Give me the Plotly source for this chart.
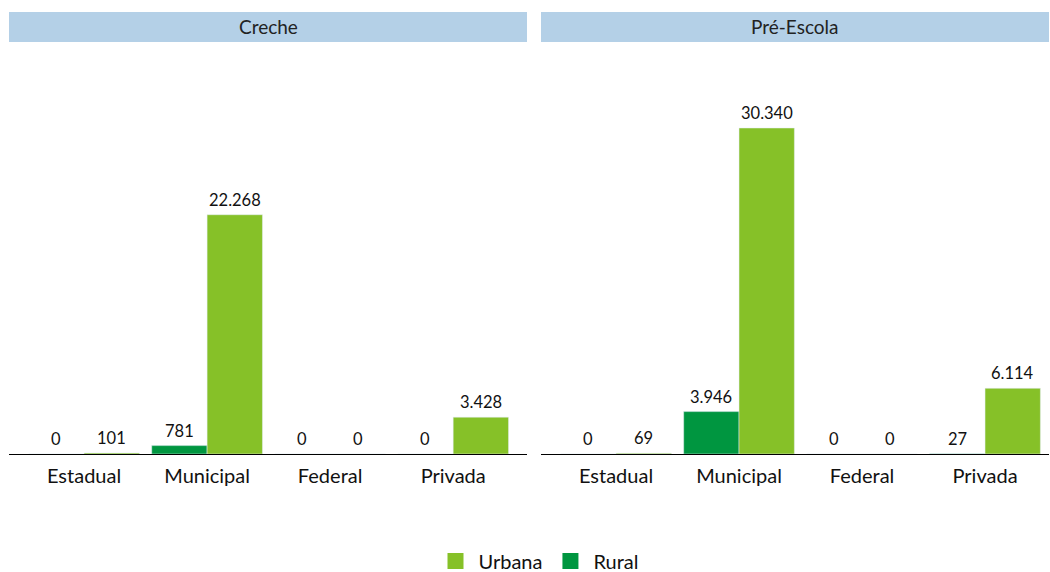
import plotly.graph_objects as go

categories = ["Estadual", "Municipal", "Federal", "Privada"]
panels = ["Creche", "Pré-Escola"]
rural_creche = [0, 781, 0, 0]
urbana_creche = [101, 22268, 0, 3428]
rural_pre = [0, 3946, 0, 27]
urbana_pre = [69, 30340, 0, 6114]

RURAL = "#009640"
URBANA = "#86c128"
FONT = "Lato"
W, H = 1050, 572


def fmt(v):
    return f"{v:,}".replace(",", ".")


def px(x):
    return x / W


def py(y):
    return 1 - y / H


fig = go.Figure()
data = [(rural_creche, urbana_creche), (rural_pre, urbana_pre)]
annotations = []
for i, (rur, urb) in enumerate(data):
    xa = "x" if i == 0 else "x2"
    ya = "y" if i == 0 else "y2"
    fig.add_trace(go.Bar(x=categories, y=rur, name="Rural", marker_color=RURAL,
                         offsetgroup="r", xaxis=xa, yaxis=ya, showlegend=False,
                         hoverinfo="skip"))
    fig.add_trace(go.Bar(x=categories, y=urb, name="Urbana", marker_color=URBANA,
                         offsetgroup="u", xaxis=xa, yaxis=ya, showlegend=False,
                         hoverinfo="skip"))
    for j, c in enumerate(categories):
        for k, vals in enumerate((rur, urb)):
            annotations.append(dict(
                x=j + (-0.225 if k == 0 else 0.225), y=vals[j], xref=xa, yref=ya,
                text=fmt(vals[j]), showarrow=False, yanchor="bottom", xanchor="center",
                yshift=3, font=dict(family=FONT, size=16.5, color="#111111")))

# legend entries (square markers)
for name, col in (("Urbana", URBANA), ("Rural", RURAL)):
    fig.add_trace(go.Scatter(x=[None], y=[None], mode="markers", name=name,
                             marker=dict(symbol="square", size=16, color=col),
                             xaxis="x", yaxis="y", showlegend=True, hoverinfo="skip"))

ymax = 30340 / (454 - 128) * (454 - 42)
base = py(454)
top = py(42)

# panel headers
shapes = []
for (x0, x1), title in zip([(9, 527), (541, 1049)], panels):
    shapes.append(dict(type="rect", xref="paper", yref="paper", x0=px(x0), x1=px(x1),
                       y0=py(42), y1=py(12), fillcolor="#b4d0e7", line_width=0, layer="below"))
    annotations.append(dict(x=px((x0 + x1) / 2), y=py(27), xref="paper", yref="paper",
                            text=title, showarrow=False, yanchor="middle", xanchor="center",
                            font=dict(family=FONT, size=19, color="#222222")))

xcommon = dict(showline=True, linecolor="#000000", linewidth=1, ticks="",
               showgrid=False, zeroline=False, ticklabelstandoff=4,
               tickfont=dict(family=FONT, size=20, color="#111111"), fixedrange=True)
ycommon = dict(range=[0, ymax], visible=False, showgrid=False, zeroline=False, fixedrange=True)

fig.update_layout(
    width=W, height=H,
    margin=dict(l=0, r=0, t=0, b=0, autoexpand=False),
    paper_bgcolor="white", plot_bgcolor="white",
    barmode="group", bargap=0.1, bargroupgap=0,
    xaxis=dict(domain=[px(9), px(527)], range=[-0.61, 3.6], **xcommon),
    xaxis2=dict(domain=[px(541), px(1049)], range=[-0.61, 3.52], **xcommon),
    yaxis=dict(domain=[base, top], anchor="x", **ycommon),
    yaxis2=dict(domain=[base, top], anchor="x2", **ycommon),
    shapes=shapes,
    annotations=annotations,
    legend=dict(orientation="h", x=px(538), xanchor="center", y=py(561), yanchor="middle",
                itemwidth=36, borderwidth=0,
                font=dict(family=FONT, size=20, color="#111111"), traceorder="normal"),
    font=dict(family=FONT),
)
fig.write_html(
    "out.html",
    config={"displayModeBar": False, "staticPlot": True},
    post_script=(
        "document.documentElement.style.overflow='hidden';"
        "document.documentElement.style.height='572px';"
        "document.body.style.margin='0';"
        "document.body.style.overflow='hidden';"
        "document.body.style.height='572px';"
    ),
)
